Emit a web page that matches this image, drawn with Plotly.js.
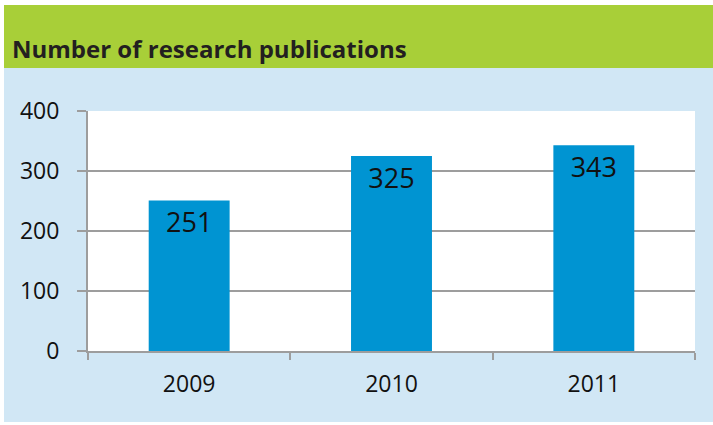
<!DOCTYPE html>
<html>
<head>
<meta charset="utf-8">
<script src="https://cdn.plot.ly/plotly-3.0.1.min.js"></script>
<style>html,body{margin:0;padding:0;background:#fff;}#chart{width:713px;height:425px;}</style>
</head>
<body>
<div id="chart"></div>
<script>
const years = ['2009', '2010', '2011'];
const publications = [251, 325, 343];
const yTicks = [0, 100, 200, 300, 400];
const chartTitle = 'Number of research publications';

const W = 713, H = 425;
const L = 88, R = 18, T = 111, B = 74;
const pw = W - L - R, ph = H - T - B;
const px = v => (v - L) / pw;
const py = v => (H - B - v) / ph;

const FONT = 'Open Sans, sans-serif';
const GRID = '#9d9d9d';

const trace = {
  type: 'bar',
  x: years,
  y: publications,
  marker: {color: '#0094d2'},
  text: publications.map(String),
  textposition: 'inside',
  insidetextanchor: 'end',
  textangle: 0,
  textfont: {family: FONT, size: 27, color: '#111'},
  cliponaxis: false,
  hoverinfo: 'x+y'
};

const layout = {
  width: W, height: H,
  margin: {l: L, r: R, t: T, b: B, pad: 0},
  paper_bgcolor: '#d1e7f5',
  plot_bgcolor: '#ffffff',
  showlegend: false,
  bargap: 0.6,
  title: {
    text: '<b>' + chartTitle + '</b>',
    font: {family: FONT, size: 24, color: '#231f20'},
    xref: 'container', yref: 'container',
    x: 12 / W, xanchor: 'left',
    y: 1 - 50 / H, yanchor: 'middle'
  },
  xaxis: {
    type: 'category',
    showgrid: false,
    showline: true, linecolor: GRID, linewidth: 2,
    ticks: 'outside', tickson: 'boundaries', ticklen: 7, tickwidth: 2, tickcolor: GRID,
    tickfont: {family: FONT, size: 23, color: '#111'},
    ticklabelstandoff: 11,
    zeroline: false
  },
  yaxis: {
    range: [0, 400],
    tickvals: yTicks,
    ticktext: yTicks.map(String),
    showgrid: true, gridcolor: GRID, gridwidth: 2,
    showline: true, linecolor: GRID, linewidth: 2,
    ticks: 'outside', ticklen: 9, tickwidth: 2, tickcolor: GRID,
    tickfont: {family: FONT, size: 23, color: '#111'},
    ticklabelstandoff: 13,
    zeroline: false
  },
  shapes: [
    {type: 'rect', xref: 'paper', yref: 'paper', layer: 'below',
     x0: px(-5), x1: px(W + 5), y0: py(5), y1: py(-5), fillcolor: '#ffffff', line: {width: 0}},
    {type: 'rect', xref: 'paper', yref: 'paper', layer: 'below',
     x0: px(-5), x1: px(4), y0: py(H + 5), y1: py(-5), fillcolor: '#ffffff', line: {width: 0}},
    {type: 'rect', xref: 'paper', yref: 'paper', layer: 'below',
     x0: px(-5), x1: px(W + 5), y0: py(H + 5), y1: py(422), fillcolor: '#ffffff', line: {width: 0}},
    {type: 'rect', xref: 'paper', yref: 'paper', layer: 'below',
     x0: px(4), x1: px(W + 5), y0: py(68), y1: py(5), fillcolor: '#a8cf38', line: {width: 0}}
  ]
};

Plotly.newPlot('chart', [trace], layout, {displayModeBar: false, staticPlot: true});
</script>
</body>
</html>
